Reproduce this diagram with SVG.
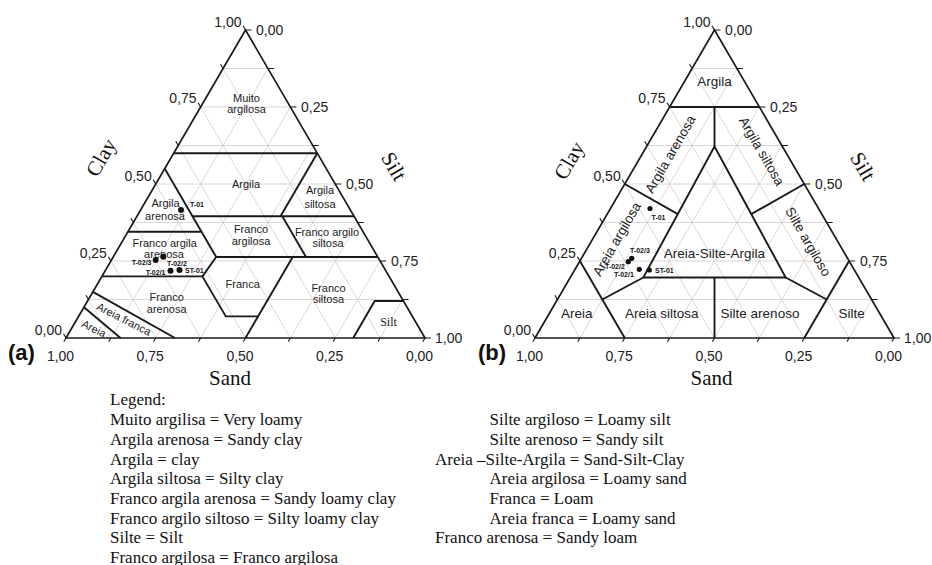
<svg xmlns="http://www.w3.org/2000/svg" xmlns:xlink="http://www.w3.org/1999/xlink" width="932" height="565" viewBox="0 0 932 565">
<style>
.grid{stroke:#d6cccc;stroke-width:0.8;fill:none}
.edge{stroke:#1a1a1a;stroke-width:1.7;fill:none;stroke-linejoin:miter}
.tick{stroke:#1a1a1a;stroke-width:1.1}
.reg{stroke:#1a1a1a;stroke-width:1.9;fill:none;stroke-linejoin:miter}
.tl{font-family:"Liberation Sans",Arial,sans-serif;font-size:14px;fill:#222}
.lab{font-family:"Liberation Sans",Arial,sans-serif;font-size:11px;fill:#222;text-anchor:middle}
.labb{font-family:"Liberation Sans",Arial,sans-serif;font-size:13.5px;fill:#222;text-anchor:middle}
.pt{font-family:"Liberation Sans",Arial,sans-serif;font-size:7px;font-weight:bold;fill:#111}
.ax{font-family:"Liberation Serif","Times New Roman",serif;font-size:21px;fill:#111;text-anchor:middle}
.pan{font-family:"Liberation Sans",Arial,sans-serif;font-size:22px;font-weight:bold;fill:#111}
.leg{font-family:"Liberation Serif","Times New Roman",serif;font-size:17px;fill:#111}
.dot{fill:#111}
</style>
<defs>
<g id="tri">
<g class="grid">
<path d="M88.44 299.5H402.56M110.875 261H380.125M133.31 222.5H357.69M155.75 184H335.25M178.19 145.5H312.81M200.625 107H290.375M223.06 68.5H267.94"/>
<path d="M110.875 338L267.94 68.5M155.75 338L290.375 107M200.625 338L312.81 145.5M245.5 338L335.25 184M290.375 338L357.69 222.5M335.25 338L380.125 261M380.125 338L402.56 299.5"/>
<path d="M110.875 338L88.44 299.5M155.75 338L110.875 261M200.625 338L133.31 222.5M245.5 338L155.75 184M290.375 338L178.19 145.5M335.25 338L200.625 107M380.125 338L223.06 68.5"/>
</g>
<path class="edge" d="M66 338L245.5 30L425 338Z"/>
<g class="tick">
<path d="M66 338l-2.5 -4.3M88.44 299.5l-2.5 -4.3M110.875 261l-2.5 -4.3M133.31 222.5l-2.5 -4.3M155.75 184l-2.5 -4.3M178.19 145.5l-2.5 -4.3M200.625 107l-2.5 -4.3M223.06 68.5l-2.5 -4.3M245.5 30l-2.5 -4.3"/>
<path d="M245.5 30h6M267.94 68.5h6M290.375 107h6M312.81 145.5h6M335.25 184h6M357.69 222.5h6M380.125 261h6M402.56 299.5h6M425 338h6"/>
<path d="M66 338l-2.2 3.8M110.875 338l-2.2 3.8M155.75 338l-2.2 3.8M200.625 338l-2.2 3.8M245.5 338l-2.2 3.8M290.375 338l-2.2 3.8M335.25 338l-2.2 3.8M380.125 338l-2.2 3.8M425 338l-2.2 3.8"/>
</g>
<g class="tl">
<text x="241.5" y="26.5" text-anchor="end">1,00</text>
<text x="196.6" y="103" text-anchor="end">0,75</text>
<text x="151.7" y="180.5" text-anchor="end">0,50</text>
<text x="106.9" y="257.5" text-anchor="end">0,25</text>
<text x="62" y="334.5" text-anchor="end">0,00</text>
<text x="256" y="34.5">0,00</text>
<text x="301" y="111.5">0,25</text>
<text x="346" y="188.5">0,50</text>
<text x="391" y="265.5">0,75</text>
<text x="435" y="342.5">1,00</text>
<text x="60.5" y="360.5" text-anchor="middle">1,00</text>
<text x="150.2" y="360.5" text-anchor="middle">0,75</text>
<text x="240" y="360.5" text-anchor="middle">0,50</text>
<text x="329.7" y="360.5" text-anchor="middle">0,25</text>
<text x="419.5" y="360.5" text-anchor="middle">0,00</text>
</g>
</g>
</defs>

<g id="diagram-a">
<use xlink:href="#tri" href="#tri"/>
<g id="regions-a" class="reg">
<path d="M173.7 153.2H317.3"/>
<path d="M164.7 168.6L216.2 257L202.4 276.4L225.8 316.4H258.1"/>
<path d="M292.7 257L245.5 338"/>
<path d="M192.55 216.3H354.1"/>
<path d="M127.9 231.7H201.5"/>
<path d="M216.2 257H377.8"/>
<path d="M101.9 276.4H202.4"/>
<path d="M280.5 216.3L317.3 153.2"/>
<path d="M282.3 216.3L306 257"/>
<path d="M353.2 338L374.7 301H403.5"/>
<path d="M92.9 291.8L175 338"/>
<path d="M83.95 307.2L120.5 338"/>
</g>
<g id="labels-a">
<text class="lab" x="246.5" y="101.5">Muito</text>
<text class="lab" x="246.5" y="113">argilosa</text>
<text class="lab" x="246" y="187.5">Argila</text>
<text class="lab" x="165.5" y="207">Argila</text>
<text class="lab" x="165" y="220">arenosa</text>
<text class="lab" x="320" y="194">Argila</text>
<text class="lab" x="320" y="208">siltosa</text>
<text class="lab" x="251" y="233">Franco</text>
<text class="lab" x="251" y="245">argilosa</text>
<text class="lab" x="327" y="236">Franco argilo</text>
<text class="lab" x="328" y="247">siltosa</text>
<text class="lab" x="164.7" y="247">Franco argila</text>
<text class="lab" x="164" y="258">arenosa</text>
<text class="lab" x="242.7" y="288">Franca</text>
<text class="lab" x="328.5" y="292">Franco</text>
<text class="lab" x="328.5" y="303">siltosa</text>
<text class="lab" x="166.7" y="301">Franco</text>
<text class="lab" x="166.7" y="313">arenosa</text>
<text class="lab" transform="translate(124 319) rotate(27)" x="0" y="4">Areia franca</text>
<text class="lab" transform="translate(94 328.5) rotate(27)" x="0" y="4">Areia</text>
<text x="388.5" y="326" style="font-family:'Liberation Serif','Times New Roman',serif;font-size:12px;fill:#222;text-anchor:middle">Silt</text>
</g>
<g id="points-a">
<circle class="dot" cx="181" cy="210" r="3"/>
<circle class="dot" cx="155.7" cy="260" r="3"/>
<circle class="dot" cx="163.3" cy="256.7" r="3"/>
<circle class="dot" cx="170.5" cy="270.7" r="3"/>
<circle class="dot" cx="179.5" cy="270" r="3"/>
<text class="pt" x="190" y="206.5">T-01</text>
<text class="pt" x="151.5" y="265" text-anchor="end">T-02/3</text>
<text class="pt" x="167" y="266">T-02/2</text>
<text class="pt" x="165.5" y="274.5" text-anchor="end">T-02/1</text>
<text class="pt" x="185" y="272.5">ST-01</text>
</g>
<g id="axes-a">
<text class="ax" transform="translate(102 158) rotate(-60)" x="0" y="6">Clay</text>
<text class="ax" transform="translate(393 167) rotate(60)" x="0" y="6">Silt</text>
<text class="ax" x="230" y="385">Sand</text>
<text class="pan" x="8" y="360">(a)</text>
</g>
</g>

<g id="diagram-b">
<use xlink:href="#tri" href="#tri" transform="translate(469 0)"/>
<g id="regions-b" class="reg">
<path d="M669.6 107H759.4"/>
<path d="M714.5 107V146.5"/>
<path d="M714.5 146.5L643.3 277.5H785.7Z"/>
<path d="M624.75 184L677.8 214.2"/>
<path d="M804.25 184L751.2 214.2"/>
<path d="M643.3 277.5L602.3 299.5"/>
<path d="M785.7 277.5L826.7 299.5"/>
<path d="M579.9 261L624.75 338"/>
<path d="M849.1 261L804.25 338"/>
<path d="M714.5 277.5V338"/>
</g>
<g id="labels-b">
<text class="labb" x="714.5" y="86">Argila</text>
<text class="labb" transform="translate(670 154) rotate(-60)" x="0" y="5">Argila arenosa</text>
<text class="labb" transform="translate(762 151) rotate(60)" x="0" y="5">Argila siltosa</text>
<text class="labb" transform="translate(616.5 239) rotate(-60)" x="0" y="5">Areia argilosa</text>
<text class="labb" transform="translate(808.5 241.5) rotate(60)" x="0" y="5">Silte argiloso</text>
<text class="labb" x="714.5" y="258">Areia-Silte-Argila</text>
<text class="labb" x="576.7" y="317.5">Areia</text>
<text class="labb" x="661.7" y="317.5">Areia siltosa</text>
<text class="labb" x="760" y="317.5">Silte arenoso</text>
<text class="labb" x="851.7" y="317.5">Silte</text>
</g>
<g id="points-b">
<circle class="dot" cx="650" cy="208.5" r="2.6"/>
<circle class="dot" cx="631.7" cy="258.3" r="2.6"/>
<circle class="dot" cx="628.3" cy="261.7" r="2.6"/>
<circle class="dot" cx="639.3" cy="269.3" r="2.6"/>
<circle class="dot" cx="649.3" cy="270" r="2.6"/>
<text class="pt" x="651.5" y="219.5">T-01</text>
<text class="pt" x="630" y="252.5">T-02/3</text>
<text class="pt" x="605" y="269">T-02/2</text>
<text class="pt" x="614" y="276.5">T-02/1</text>
<text class="pt" x="655" y="272.5">ST-01</text>
</g>
<g id="axes-b">
<text class="ax" transform="translate(570 161) rotate(-60)" x="0" y="6">Clay</text>
<text class="ax" transform="translate(862 167) rotate(60)" x="0" y="6">Silt</text>
<text class="ax" x="711.5" y="385">Sand</text>
<text class="pan" x="478" y="360">(b)</text>
</g>
</g>

<g id="legend" class="leg">
<text x="110" y="405">Legend:</text>
<text x="110" y="425">Muito argilisa = Very loamy</text>
<text x="110" y="445">Argila arenosa = Sandy clay</text>
<text x="110" y="465">Argila = clay</text>
<text x="110" y="484">Argila siltosa = Silty clay</text>
<text x="110" y="503.5">Franco argila arenosa = Sandy loamy clay</text>
<text x="110" y="523.5">Franco argilo siltoso = Silty loamy clay</text>
<text x="110" y="543">Silte = Silt</text>
<text x="110" y="562.5">Franco argilosa = Franco argilosa</text>
<text x="489.5" y="425">Silte argiloso = Loamy silt</text>
<text x="489.5" y="445">Silte arenoso = Sandy silt</text>
<text x="435" y="465">Areia –Silte-Argila = Sand-Silt-Clay</text>
<text x="489.5" y="484">Areia argilosa = Loamy sand</text>
<text x="489.5" y="503.5">Franca = Loam</text>
<text x="489.5" y="523.5">Areia franca = Loamy sand</text>
<text x="435" y="543">Franco arenosa = Sandy loam</text>
</g>
</svg>
